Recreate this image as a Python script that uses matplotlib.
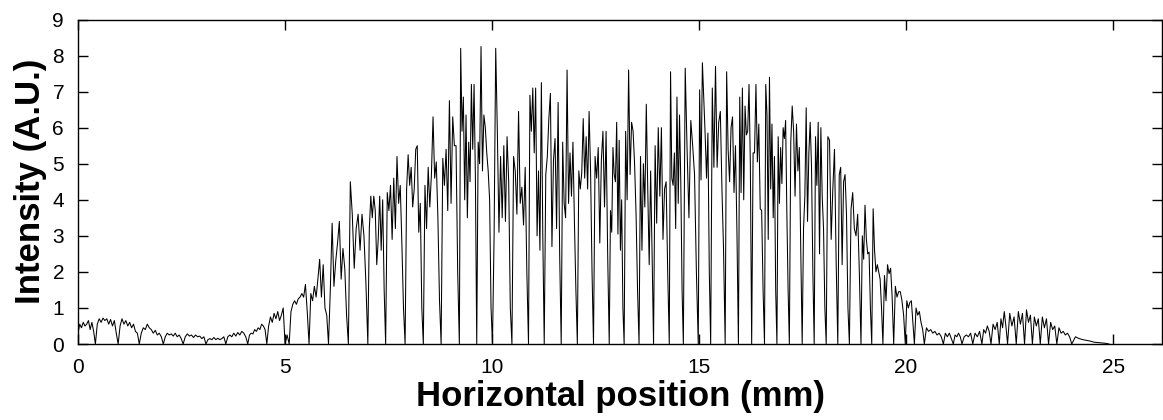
import matplotlib
matplotlib.use("Agg")
import matplotlib.pyplot as plt
import numpy as np

plt.rcParams['font.family'] = ['Liberation Sans', 'DejaVu Sans']

# Positions (mm) where the fringe intensity drops to zero
dip_mm = [0.42, 0.97, 1.48, 2.06, 2.54, 3.09, 3.57, 4.10, 4.56, 5.0,
          5.1, 5.58, 6.05, 6.53, 7.0, 7.43, 7.90, 8.34, 8.77, 9.21,
          9.63, 10.01, 10.48, 10.88, 11.26, 11.67, 12.06, 12.45, 12.83, 13.19,
          13.55, 13.90, 14.28, 14.62, 14.98, 15.28, 15.63, 15.95, 16.27, 16.58,
          16.88, 17.18, 17.49, 17.78, 18.07, 18.35, 18.63, 18.91, 19.17, 19.44,
          19.70, 19.98, 20.20, 20.44, 20.9, 21.14, 21.35, 21.61, 21.83, 22.05,
          22.25, 22.45, 22.66, 22.86, 23.05, 23.24, 23.44, 23.64, 24.0]

start_mm = 0.0
start_level = 0.3
end_mm = 24.9
end_level = 0.0

# Intensity samples read between consecutive dips (A.U.)
segment_values = [
    [0.55, 0.45, 0.6, 0.5, 0.55, 0.65, 0.4, 0.6, 0.35],
    [0.55, 0.7, 0.6, 0.72, 0.65, 0.7, 0.55, 0.68, 0.5, 0.65, 0.3],
    [0.5, 0.7, 0.55, 0.65, 0.5, 0.6, 0.45, 0.55, 0.35, 0.3],
    [0.3, 0.45, 0.4, 0.55, 0.45, 0.4, 0.3, 0.38, 0.25, 0.3, 0.2],
    [0.2, 0.3, 0.25, 0.28, 0.22, 0.3, 0.2, 0.25, 0.15],
    [0.2, 0.28, 0.22, 0.25, 0.18, 0.25, 0.2, 0.22, 0.15, 0.2],
    [0.12, 0.15, 0.12, 0.18, 0.12, 0.16, 0.12, 0.15, 0.2],
    [0.2, 0.25, 0.2, 0.3, 0.22, 0.32, 0.25, 0.35, 0.3, 0.2],
    [0.25, 0.3, 0.28, 0.4, 0.35, 0.45, 0.4, 0.55, 0.5, 0.4],
    [0.5, 0.75, 0.6, 0.85, 0.7, 0.9, 0.65, 0.8, 1.0],
    [0.25],
    [0.9, 1.1, 1.2, 1.1, 1.25, 1.3, 1.4, 1.3, 1.65, 0.9],
    [1.4, 1.2, 1.6, 1.3, 1.8, 2.35, 1.3, 2.2, 1.0, 0.8],
    [1.5, 3.35, 1.6, 2.3, 2.8, 3.4, 1.8, 2.65, 2.1, 0.8],
    [4.5, 3.6, 2.1, 3.2, 3.6, 2.6, 3.6, 3.0, 1.7],
    [3.2, 4.1, 3.5, 4.1, 3.7, 2.2, 2.9, 4.1, 2.6, 4.0, 1.5],
    [4.2, 3.7, 4.4, 2.9, 4.6, 3.2, 5.2, 3.9, 4.4, 2.8, 1.0],
    [4.3, 5.25, 4.4, 4.9, 3.8, 4.3, 5.4, 5.5, 3.1, 3.9, 1.0],
    [4.4, 3.2, 4.9, 3.8, 4.7, 6.3, 4.6, 5.05, 3.5, 1.2],
    [5.15, 4.4, 5.4, 3.7, 6.75, 3.9, 6.3, 5.5, 5.5, 2.0],
    [8.2, 5.9, 6.85, 4.0, 6.35, 3.5, 5.6, 4.5, 7.2, 5.4, 7.2, 4.6],
    [5.6, 5.0, 8.25, 4.8, 6.35, 6.0, 5.3, 4.8, 4.0, 1.0],
    [3.0, 8.2, 5.9, 3.1, 5.2, 3.5, 5.5, 3.4, 5.75, 4.5, 1.0],
    [5.2, 4.8, 3.6, 6.45, 3.9, 4.35, 3.3, 4.9, 2.0],
    [6.9, 5.9, 7.1, 5.3, 7.1, 3.0, 4.8, 2.6, 7.25, 3.0],
    [4.7, 5.2, 6.25, 6.95, 2.7, 5.1, 5.7, 3.2, 6.7, 2.5],
    [5.6, 3.9, 3.5, 7.6, 3.9, 5.3, 4.1, 5.6, 3.4, 1.5],
    [4.8, 4.3, 4.75, 6.25, 4.6, 5.75, 4.3, 6.45, 4.8, 2.0],
    [5.2, 4.6, 5.45, 2.8, 5.1, 5.9, 3.8, 5.9, 2.5],
    [3.7, 3.1, 5.45, 4.7, 4.5, 6.15, 3.05, 5.65, 2.6, 4.0, 1.0],
    [5.9, 4.0, 7.6, 4.7, 6.15, 5.9, 5.0, 3.6, 1.5],
    [5.2, 2.6, 5.0, 3.8, 6.65, 4.3, 2.2, 4.8, 2.5],
    [5.5, 3.35, 6.0, 4.1, 6.0, 2.9, 4.3, 4.5, 2.0],
    [7.55, 4.6, 4.4, 5.3, 3.2, 6.85, 3.9, 6.35, 4.5, 1.5],
    [7.65, 5.4, 3.5, 6.2, 5.5, 4.7, 2.0],
    [7.05, 4.55, 7.8, 6.8, 5.8, 4.6, 5.85, 2.0],
    [7.1, 4.9, 7.7, 4.9, 6.15, 6.45, 4.3, 2.6],
    [7.55, 5.4, 4.5, 6.0, 6.3, 4.2, 5.5, 3.1],
    [6.85, 4.2, 7.1, 4.0, 6.6, 5.8, 5.9, 7.2, 5.0],
    [5.3, 5.3, 7.2, 5.05, 6.1, 3.75, 3.7, 1.5],
    [7.2, 6.35, 2.9, 7.4, 4.3, 6.1, 3.5, 5.2, 1.5],
    [5.75, 3.9, 5.45, 4.45, 6.0, 5.7, 6.2, 3.6, 1.5],
    [5.6, 6.6, 5.9, 4.1, 6.1, 4.8, 5.45, 2.6],
    [3.2, 4.1, 6.55, 3.4, 5.3, 6.15, 4.9, 2.0],
    [5.75, 4.4, 6.15, 2.5, 6.0, 4.1, 3.2, 1.0],
    [5.75, 5.65, 2.9, 4.3, 5.4, 2.3],
    [4.7, 4.9, 2.2, 4.5, 4.7, 3.6, 1.0],
    [3.75, 4.2, 3.2, 3.0, 3.6, 2.0],
    [3.0, 2.35, 3.85, 2.9, 2.5, 2.55, 1.0],
    [3.75, 2.6, 2.0, 2.2, 2.0, 1.8, 1.0],
    [1.9, 1.2, 2.2, 1.95, 2.1, 1.3],
    [1.6, 1.3, 1.45, 1.45, 1.2, 0.8],
    [1.2, 1.0, 1.15, 1.2, 0.6],
    [1.0, 0.8, 0.9, 0.6, 0.4],
    [0.45, 0.35, 0.4, 0.3, 0.35, 0.25, 0.3, 0.2],
    [0.3, 0.2, 0.3, 0.15],
    [0.25, 0.2, 0.3, 0.2],
    [0.2, 0.25, 0.2, 0.3],
    [0.3, 0.2, 0.35],
    [0.4, 0.3, 0.5, 0.35],
    [0.55, 0.4, 0.6],
    [0.7, 0.45, 0.9, 0.5],
    [0.85, 0.5, 0.75],
    [0.9, 0.55, 0.85],
    [0.95, 0.6, 0.8],
    [0.75, 0.5, 0.7],
    [0.75, 0.45, 0.7],
    [0.6, 0.4, 0.5],
    [0.45, 0.3, 0.35, 0.25, 0.3, 0.2],
    [0.2, 0.15, 0.12, 0.1, 0.08, 0.05, 0.04, 0.03, 0.02],
]

x_ticks = [0, 5, 10, 15, 20, 25]
y_ticks = [0, 1, 2, 3, 4, 5, 6, 7, 8, 9]
x_label = "Horizontal position (mm)"
y_label = "Intensity (A.U.)"

assert len(segment_values) == len(dip_mm) + 1

# Assemble the trace: samples spaced evenly between bounding dips
bounds = [start_mm] + dip_mm + [end_mm]
xs = [start_mm]
ys = [start_level]
for i, vals in enumerate(segment_values):
    a, b = bounds[i], bounds[i + 1]
    n = len(vals)
    for k, v in enumerate(vals):
        xs.append(a + (k + 1) * (b - a) / (n + 1))
        ys.append(v)
    if i < len(dip_mm):
        xs.append(b)
        ys.append(0.0)
xs.append(end_mm)
ys.append(end_level)

W, H = 1163, 420
fig = plt.figure(figsize=(W / 100, H / 100), dpi=100)
ax = fig.add_axes([78 / W, 1 - 344 / H, (1162 - 78) / W, (344 - 19.5) / H])
ax.plot(xs, ys, color='black', linewidth=0.75)

ax.set_xlim(0, 26.18)
ax.set_ylim(0, 9)
ax.set_xticks(x_ticks)
ax.set_yticks(y_ticks)
ax.tick_params(direction='in', top=True, right=True, length=7.5, width=1.0,
               labelsize=15, colors='black')
ax.tick_params(axis='x', pad=10)
ax.tick_params(axis='y', pad=10)
for s in ax.spines.values():
    s.set_linewidth(1.0)
ax.set_xlabel(x_label, fontsize=25, fontweight='bold', labelpad=2)
ax.set_ylabel(y_label, fontsize=25, fontweight='bold', labelpad=4)

fig.savefig("out.png", dpi=100)
